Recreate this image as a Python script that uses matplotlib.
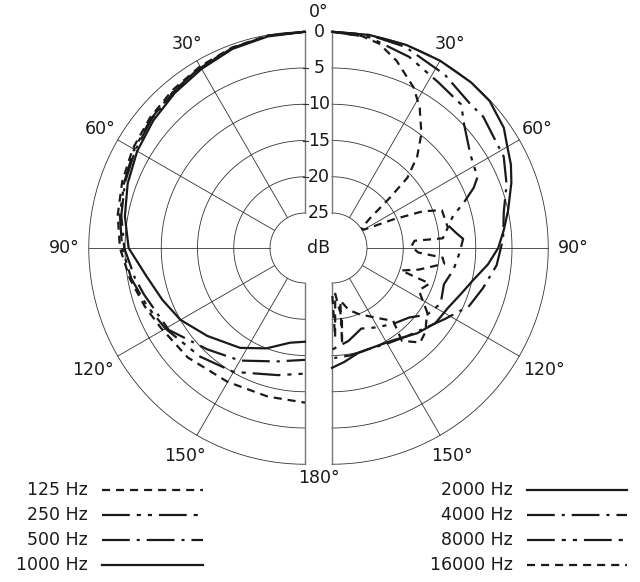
import numpy as np
import matplotlib
matplotlib.use("Agg")
import matplotlib.pyplot as plt

# polar response data: angle (deg from front) and attenuation (dB below 0)
# left half
th_125 = [0, 10, 20, 30, 40, 50, 60, 70, 80, 90, 100, 110, 119, 133, 150, 166, 180]
att_125 = [0, 0.1, 0.4, 0.9, 1.4, 1.9, 2.4, 3.0, 3.6, 4.3, 5.3, 6.3, 7.1, 7.7, 8.5, 8.7, 8.5]
th_250 = [0, 10, 20, 30, 40, 50, 60, 70, 80, 90, 100, 110, 120, 136, 150, 168, 180]
att_250 = [0, 0.1, 0.5, 1.0, 1.6, 2.1, 2.6, 3.3, 3.9, 4.6, 5.5, 6.6, 7.6, 9.0, 10.1, 11.9, 12.5]
th_500 = [0, 10, 20, 30, 40, 50, 60, 70, 80, 90, 100, 106, 121, 136, 150, 166, 180]
att_500 = [0, 0.1, 0.5, 1.1, 1.7, 2.2, 2.8, 3.4, 4.1, 4.9, 6.0, 6.7, 7.9, 10.4, 11.9, 13.7, 14.4]
th_1000 = [0, 10, 20, 30, 40, 50, 60, 70, 80, 90, 100, 110, 120, 132, 147, 159, 171, 180]
att_1000 = [0, 0.2, 0.6, 1.3, 1.9, 2.5, 3.1, 3.8, 4.6, 5.5, 7.6, 8.9, 10.0, 11.7, 13.4, 15.0, 16.6, 16.9]

# right half
th_2000 = [0, 10, 20, 30, 40, 47, 55, 60, 65, 70, 78, 84, 90, 96, 103, 110, 117, 126, 135, 147, 158, 166, 174, 180]
att_2000 = [0, 0, 0, 0, 0, 0.1, 0.9, 1.9, 2.6, 3.5, 5.0, 6.0, 6.9, 8.2, 9.9, 11.0, 11.8, 12.2, 13.2, 14.6, 15.0, 14.9, 14.0, 13.3]
th_4000 = [0, 10, 20, 33, 44, 49, 62, 70, 78, 87, 96, 105, 113, 122, 130, 140, 150, 160, 170, 180]
att_4000 = [0, 0, 0.3, 1.3, 2.3, 2.2, 3.0, 4.2, 5.6, 6.2, 7.0, 8.3, 9.3, 11.4, 12.8, 13.9, 14.6, 15.0, 14.8, 14.6]
th_8000 = [0, 10, 22, 33, 42, 47, 56, 64, 67, 71, 75, 79, 83, 86, 92, 100, 108, 117, 125, 132, 140, 150, 160, 170, 180]
att_8000 = [0, 0.3, 1.4, 2.7, 3.2, 4.9, 6.8, 7.5, 8.6, 10.6, 12.5, 13.5, 12.6, 11.7, 12.2, 12.8, 13.6, 13.0, 13.8, 15.5, 16.3, 17.2, 18.0, 16.8, 15.8]
th_16000 = [0, 8, 13, 19, 27, 32, 38, 43, 47, 49, 52, 56, 60, 65, 68, 71, 80, 85, 85, 89, 93, 95, 98, 104, 108,
            110, 116, 124, 132, 137, 143, 140, 148, 158, 165, 171, 174, 172, 176, 178, 180]
att_16000 = [0, 0.3, 0.9, 2.5, 5.0, 7.0, 9.8, 12.6, 15.6, 19.2, 23.2, 24.9, 24.8, 20.5, 16.3, 13.8, 13.6, 14.5, 18.4, 18.9, 17.9, 14.5, 14.2, 17.5, 19.8,
             15.5, 16.5, 14.0, 12.5, 12.0, 13.8, 16.7, 18.5, 20.0, 21.0, 22.5, 16.5, 20.0, 23.5, 17.5, 24.0]

left_labels = ["125 Hz", "250 Hz", "500 Hz", "1000 Hz"]
right_labels = ["2000 Hz", "4000 Hz", "8000 Hz", "16000 Hz"]
db_ticks = [0, 5, 10, 15, 20, 25]
angle_ticks = [30, 60, 90, 120, 150]

plt.rcParams['lines.scale_dashes'] = False
plt.rcParams['font.family'] = 'DejaVu Sans'

# layout (pixels)
CX = {-1: 305.0, 1: 332.0}
CY = 248.0
R_IN = 35.0
PX = 7.25
INK = '#1a1a1a'
FS = 12.5

# line styles (dash patterns in points)
DASH = (0, (5.8, 4.3))
DASH_DOT2 = (0, (20, 5, 3, 5, 3, 5))
DASH_DOT = (0, (20, 5, 2.2, 5))
SOLID = '-'


def to_xy(th, att, side):
    th = np.radians(np.asarray(th, float))
    r = R_IN + (25 - np.asarray(att, float)) * PX
    return CX[side] + side * r * np.sin(th), CY - r * np.cos(th)


fig = plt.figure(figsize=(6.4, 5.82), dpi=100)
ax = fig.add_axes([0, 0, 1, 1])
ax.set_xlim(0, 640)
ax.set_ylim(582, 0)
ax.axis('off')

# grid
arc = np.linspace(0, 180, 181)
for side in (-1, 1):
    for v in db_ticks:
        x, y = to_xy(arc, np.full_like(arc, v), side)
        ax.plot(x, y, color='#333333', lw=0.6)
    for a in angle_ticks:
        x, y = to_xy([a, a], [0, 25], side)
        ax.plot(x, y, color='#333333', lw=0.6)
    for a in (0, 180):
        x, y = to_xy([a, a], [0, 25], side)
        ax.plot(x, y, color='#777777', lw=1.0)
    # angle labels
    for a, rl in zip(angle_ticks, [236, 237, 241, 245, 240]):
        t = np.radians(a)
        ax.text(CX[side] + side * rl * np.sin(t), CY - rl * np.cos(t), f"{a}°",
                ha='center', va='center', fontsize=FS, color=INK)

# small ticks on the upper left edge (dB scale)
for v in db_ticks[1:-1]:
    r = R_IN + (25 - v) * PX
    ax.plot([CX[-1] - 2, CX[-1] + 3], [CY - r] * 2, color='#333333', lw=0.8)

xm = (CX[-1] + CX[1]) / 2 + 0.5
ax.text(xm, CY - 236, "0°", ha='center', va='center', fontsize=FS, color=INK)
ax.text(xm, CY + 230, "180°", ha='center', va='center', fontsize=FS, color=INK)
for v in db_ticks:
    ax.text(xm, CY - (R_IN + (25 - v) * PX), str(v), ha='center', va='center',
            fontsize=FS, color=INK)
ax.text(xm, CY, "dB", ha='center', va='center', fontsize=FS, color=INK)

# curves
left = [(th_125, att_125, DASH), (th_250, att_250, DASH_DOT2),
        (th_500, att_500, DASH_DOT), (th_1000, att_1000, SOLID)]
right = [(th_2000, att_2000, SOLID), (th_4000, att_4000, DASH_DOT),
         (th_8000, att_8000, DASH_DOT2), (th_16000, att_16000, DASH)]
for side, curves in ((-1, left), (1, right)):
    for th, att, ls in curves:
        x, y = to_xy(th, att, side)
        ax.plot(x, y, color=INK, lw=1.6, ls=ls, solid_joinstyle='round',
                dash_capstyle='butt')

# legend
rows_y = [490, 515, 540, 565]
for labels, curves, tx, lx0, lx1 in ((left_labels, left, 88, 102, 203),
                                     (right_labels, right, 513, 527, 627)):
    for lab, (_, _, ls), yy in zip(labels, curves, rows_y):
        ax.text(tx, yy, lab, ha='right', va='center', fontsize=FS, color=INK)
        ax.plot([lx0, lx1], [yy, yy], color=INK, lw=1.6, ls=ls, dash_capstyle='butt')

fig.savefig("out.png", dpi=100)
